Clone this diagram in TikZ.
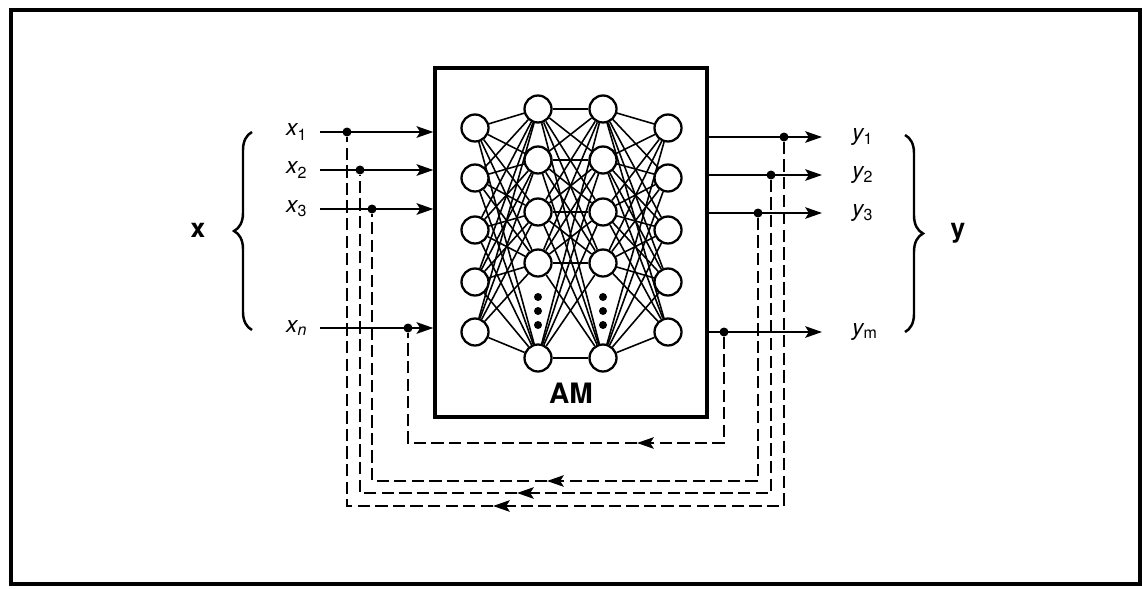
\documentclass[tikz,border=0pt]{standalone}
\usepackage{fontspec}
\setmainfont{TeX Gyre Heros}
\usetikzlibrary{arrows.meta, positioning, calc, decorations.pathreplacing}
\newcommand{\sig}[2]{{\itshape #1}\textsubscript{#2}}
\tikzset{
  neuron/.style={circle, draw, line width=1.3pt, fill=white,
                 minimum size=0.54cm, inner sep=0pt},
  jdot/.style={circle, fill, minimum size=0.18cm, inner sep=0pt},
  gapdot/.style={circle, fill, minimum size=0.16cm, inner sep=0pt},
  tip/.style={-{Stealth[length=9.5pt, width=6.5pt, inset=2pt]}},
  sigline/.style={tip, line width=1.4pt},
  feedback/.style={dash pattern=on 7pt off 3pt, line width=1.4pt},
  wire/.style={line width=0.9pt},
}

\begin{document}
\begin{tikzpicture}[x=0.02cm, y=-0.02cm, font=\fontsize{13}{15}\selectfont]
  \useasboundingbox (0,0) rectangle (1142,588);
  \draw[line width=2.2pt] (11,10) rectangle (1140,584);

  % associative memory
  \node[draw, line width=1.9pt, minimum width=5.44cm, minimum height=6.98cm,
        inner sep=0pt] (am) at (571,242.5) {};
  \node[font=\fontsize{16}{18}\selectfont\bfseries] (amlabel) at (571,393) {AM};

  \foreach \i/\y in {1/128, 2/178, 3/230, 4/282, 5/332} {
    \node[neuron] (a\i) at (475,\y) {};
    \node[neuron] (d\i) at (668,\y) {};
  }
  \foreach \i/\y in {1/109, 2/160, 3/212, 4/263, 5/358} {
    \node[neuron] (b\i) at (538,\y) {};
    \node[neuron] (c\i) at (603,\y) {};
  }
  \foreach \i in {1,...,5}
    \foreach \j in {1,...,5} {
      \draw[wire] (a\i) -- (b\j);
      \draw[wire] (b\i) -- (c\j);
      \draw[wire] (c\i) -- (d\j);
    }
  \foreach \i/\y in {1/297, 2/311, 3/325} {
    \node[gapdot] (gb\i) at (538,\y) {};
    \node[gapdot] (gc\i) at (603,\y) {};
  }

  % inputs
  \foreach \k/\s/\y/\dx in {1/1/132/347, 2/2/170/360, 3/3/209/372,
                            n/\textit{n}/328/408} {
    \node[anchor=west] (lx\k) at (280,\y) {\sig{x}{\s}};
    \coordinate (ix\k) at (320,\y);
    \draw[sigline] (ix\k) -- (am.west |- ix\k);
    \node[jdot] (jx\k) at (\dx,\y) {};
  }

  % outputs
  \foreach \k/\s/\y/\dx in {1/1/137/784, 2/2/175/771, 3/3/213/758,
                            m/m/332/724} {
    \node[anchor=west] (ly\k) at (846,\y) {\sig{y}{\s}};
    \coordinate (oy\k) at (822,\y);
    \draw[sigline] (am.east |- oy\k) -- (oy\k);
    \node[jdot] (jy\k) at (\dx,\y) {};
  }

  % feedback loops
  \foreach \k/\j/\yy/\ax in {m/n/443/637, 3/3/481/547, 2/2/493/517,
                             1/1/506/493} {
    \coordinate (fb\k) at (\ax,\yy);
    \draw[feedback, tip] (jy\k) |- (fb\k);
    \draw[feedback] (fb\k) -| (jx\j);
  }

  % vectors
  \draw[decorate, decoration={brace, amplitude=0.36cm}, line width=1.4pt]
    (252,330) -- (252,132);
  \draw[decorate, decoration={brace, amplitude=0.36cm}, line width=1.4pt]
    (905,135) -- (905,332);
  \node[font=\fontsize{15}{17}\selectfont\bfseries] (xvec) at (198,230) {x};
  \node[font=\fontsize{15}{17}\selectfont\bfseries] (yvec) at (958,233) {y};
\end{tikzpicture}
\end{document}
